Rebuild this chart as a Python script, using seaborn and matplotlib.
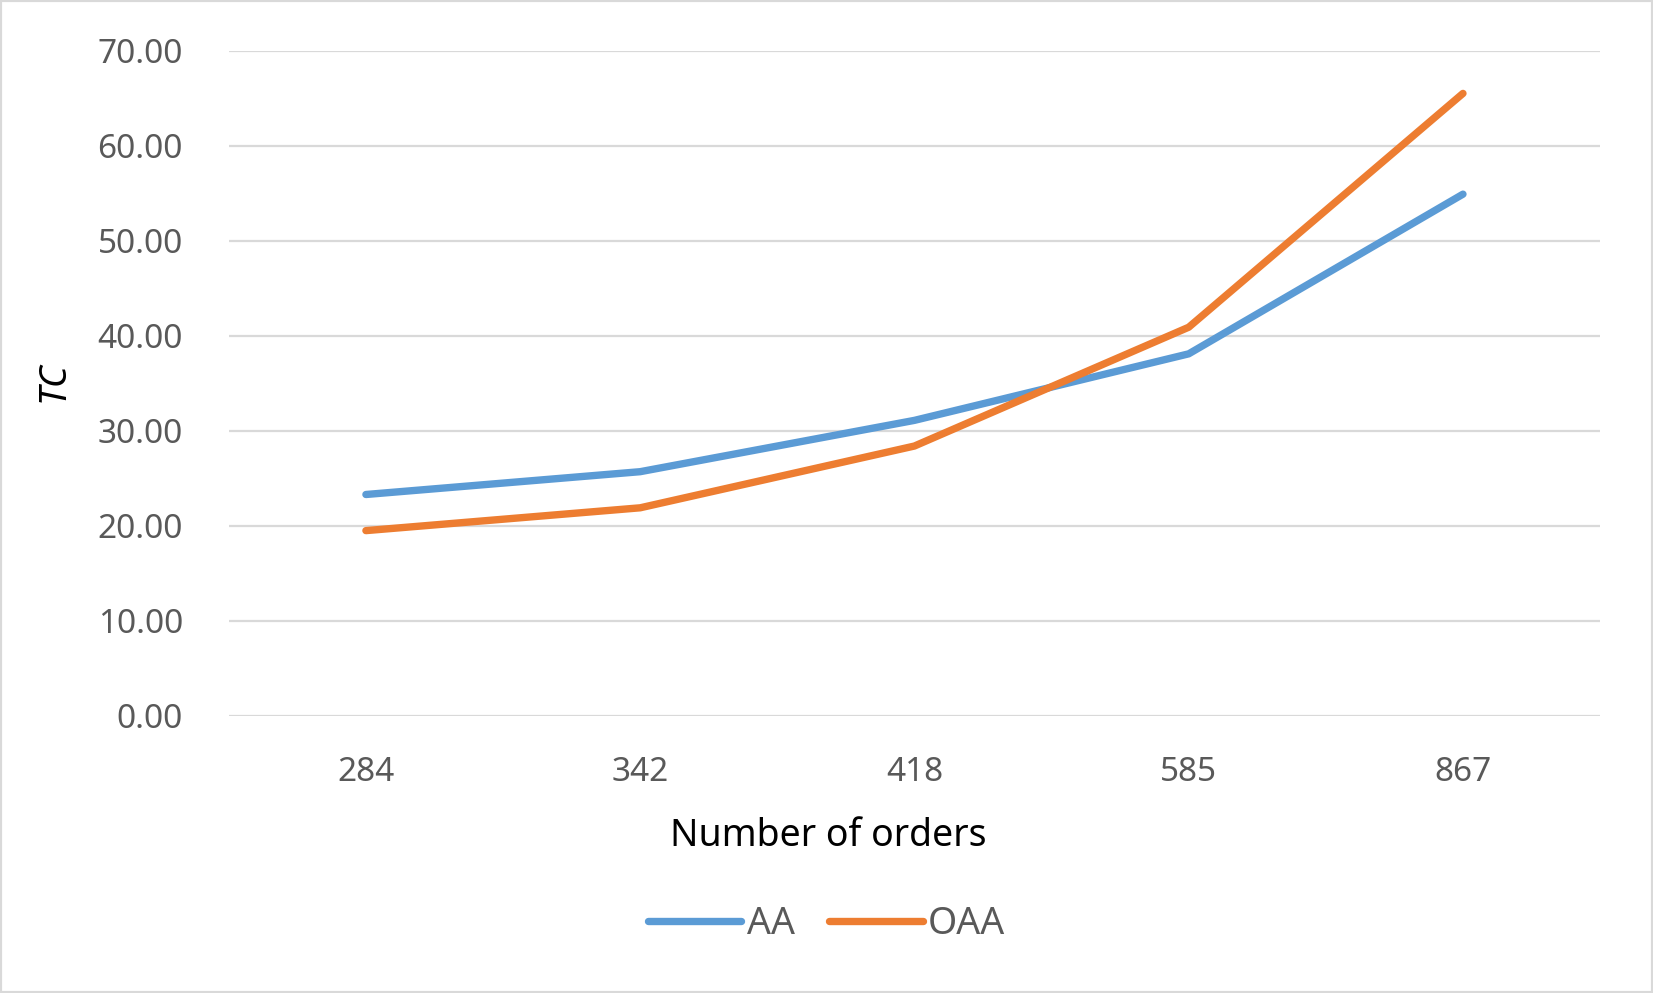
import numpy as np
import pandas as pd
import seaborn as sns
import matplotlib.pyplot as plt
from matplotlib.patches import Rectangle
from matplotlib.lines import Line2D

# chart values
orders = ['284', '342', '418', '585', '867']
aa = [23.3, 25.7, 31.1, 38.1, 54.9]
oaa = [19.5, 21.9, 28.4, 40.9, 65.5]
series_names = ['AA', 'OAA']

df = pd.DataFrame({
    'orders': orders * 2,
    'TC': aa + oaa,
    'method': [series_names[0]] * len(orders) + [series_names[1]] * len(orders),
})

sns.set_theme(style='white')
plt.rcParams['font.family'] = ['Noto Sans', 'DejaVu Sans']

fig = plt.figure(figsize=(16.53, 9.93), dpi=100)
ax = fig.add_axes([0.1384, 0.279, 0.968 - 0.1384, 0.949 - 0.279])

palette = {'AA': '#5B9BD5', 'OAA': '#ED7D31'}
sns.lineplot(data=df, x='orders', y='TC', hue='method', palette=palette,
             sort=False, linewidth=5.3, ax=ax, legend=False)
for ln in ax.get_lines():
    ln.set_solid_capstyle('round')
    ln.set_solid_joinstyle('round')

ax.set_xlim(-0.5, 4.5)
ax.set_ylim(0, 70)
ax.set_yticks(np.arange(0, 71, 10))
ax.set_yticklabels([f'{v:.2f}' for v in np.arange(0, 71, 10)])
ax.grid(axis='y', color='#D9D9D9', linewidth=1.6)
ax.set_axisbelow(True)
for s in ax.spines.values():
    s.set_visible(False)
ax.tick_params(axis='both', length=0, labelsize=24, colors='#595959')
ax.tick_params(axis='y', pad=33)
ax.tick_params(axis='x', pad=29)

ax.set_xlabel('Number of orders', fontsize=27, color='black', va='center')
ax.xaxis.set_label_coords(0.437, -0.181)
ax.set_ylabel('TC', fontsize=27, color='black', style='italic', va='center')
ax.yaxis.set_label_coords(-0.128, 0.502)

handles = [Line2D([], [], color=palette[n], linewidth=5.3, solid_capstyle='round') for n in series_names]
leg = fig.legend(handles, series_names, loc='center', bbox_to_anchor=(0.5, 0.069),
                 ncol=2, frameon=False, fontsize=27, handlelength=2.5,
                 handletextpad=0.15, columnspacing=0.9)
for t in leg.get_texts():
    t.set_color('#595959')

fig.patches.append(Rectangle((0, 0), 1, 1, transform=fig.transFigure, fill=False,
                             edgecolor='#D9D9D9', linewidth=3))

fig.savefig('out.png', dpi=100)
